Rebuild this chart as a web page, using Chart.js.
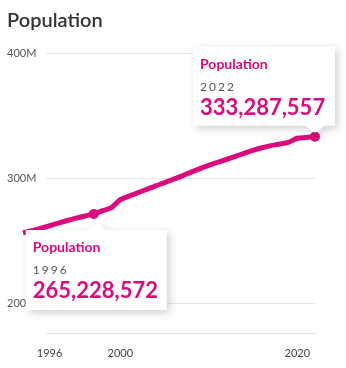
<!DOCTYPE html>
<html>
<head>
<meta charset="utf-8">
<script src="https://cdn.jsdelivr.net/npm/chart.js@4.4.1/dist/chart.umd.min.js"></script>
<style>
  html, body { margin: 0; padding: 0; background: #fff; }
  #wrap { width: 346px; height: 368px; position: relative; }
</style>
</head>
<body>
<div id="wrap"><canvas id="chart" width="346" height="368"></canvas></div>
<script>
// yearly population, millions
const YEARS = [1989, 1990, 1991, 1992, 1993, 1994, 1995, 1996, 1997, 1998, 1999,
  2000, 2001, 2002, 2003, 2004, 2005, 2006, 2007, 2008, 2009, 2010,
  2011, 2012, 2013, 2014, 2015, 2016, 2017, 2018, 2019, 2020, 2021, 2022];
const POP_M = [256.5, 258.3, 260.0, 262.2, 264.3, 266.4, 268.3, 270.0, 271.6, 274.2, 276.6,
  283.0, 285.8, 288.6, 291.2, 294.0, 296.6, 299.3, 302.0, 305.0, 307.8, 310.4,
  312.8, 315.2, 317.6, 320.0, 322.4, 324.4, 326.1, 327.4, 328.8, 332.0, 332.6, 333.29];

const Y_TICKS = [200, 300, 400];
const X_TICKS = [1992, 2000, 2020];
const X_TICK_LABELS = ['1996', '2000', '2020'];

// the two callouts: point they hang from, year shown, exact figure
const TIP_AT = [1997, 2022];
const TIP_YEAR = ['1996', '2022'];
const TIP_VALUE = [265228572, 333287557];
const TIP_SIDE = ['below', 'above'];

const PINK = '#dc0a7c';
const FONT = 'Lato, "Noto Sans", sans-serif';

const points = YEARS.map((y, i) => ({ x: y, y: POP_M[i] }));
const activeIdx = TIP_AT.map(y => YEARS.indexOf(y));

const callouts = {
  id: 'callouts',
  afterDraw(chart) {
    const ctx = chart.ctx;
    const meta = chart.getDatasetMeta(0);
    TIP_AT.forEach((yr, k) => {
      const pt = meta.data[activeIdx[k]];
      const px = pt.x, py = pt.y;
      let left, top, w, h;
      ctx.save();
      ctx.beginPath();
      if (TIP_SIDE[k] === 'above') {
        w = 142; h = 79;
        left = px - 122; top = py - 90;
        ctx.moveTo(left, top);
        ctx.lineTo(left + w, top);
        ctx.lineTo(left + w, top + h);
        ctx.lineTo(px + 10, top + h);
        ctx.lineTo(px, py - 4);
        ctx.lineTo(px - 10, top + h);
        ctx.lineTo(left, top + h);
      } else {
        w = 141; h = 80;
        left = px - 68; top = py + 16;
        ctx.moveTo(left, top);
        ctx.lineTo(px - 5, top);
        ctx.lineTo(px + 3, py + 7);
        ctx.lineTo(px + 12, top);
        ctx.lineTo(left + w, top);
        ctx.lineTo(left + w, top + h);
        ctx.lineTo(left, top + h);
      }
      ctx.closePath();
      ctx.shadowColor = 'rgba(0,0,0,0.18)';
      ctx.shadowBlur = 8;
      ctx.shadowOffsetX = 3;
      ctx.shadowOffsetY = 3;
      ctx.fillStyle = '#fff';
      ctx.fill();
      ctx.restore();

      ctx.save();
      ctx.textBaseline = 'alphabetic';
      ctx.textAlign = 'left';
      ctx.fillStyle = PINK;
      ctx.font = 'bold 14px ' + FONT;
      ctx.fillText('Population', left + 7, top + 22.5);
      ctx.fillStyle = '#555';
      ctx.font = '12px ' + FONT;
      ctx.letterSpacing = '2px';
      ctx.fillText(TIP_YEAR[k], left + 7, top + 44);
      ctx.letterSpacing = '0px';
      ctx.fillStyle = PINK;
      ctx.font = 'bold 22px ' + FONT;
      ctx.fillText(TIP_VALUE[k].toLocaleString('en-US'), left + 7, top + 68.5);
      ctx.restore();
    });
  }
};

new Chart(document.getElementById('chart').getContext('2d'), {
  type: 'line',
  data: {
    datasets: [{
      label: 'Population',
      data: points,
      borderColor: PINK,
      borderWidth: 5,
      tension: 0.25,
      clip: false,
      pointRadius: ctx => activeIdx.includes(ctx.dataIndex) ? 5 : 0,
      pointBackgroundColor: PINK,
      pointBorderWidth: 0
    }]
  },
  options: {
    responsive: false,
    animation: false,
    events: [],
    layout: { padding: { left: 7, right: 31, top: 0, bottom: 3 } },
    plugins: {
      legend: { display: false },
      tooltip: { enabled: false },
      title: {
        display: true,
        text: 'Population',
        align: 'start',
        color: '#333',
        font: { family: FONT, size: 20, weight: '600' },
        padding: { top: 9, bottom: 20 }
      }
    },
    scales: {
      x: {
        type: 'linear',
        bounds: 'data',
        // range set here (not as min/max) so the early years left of the axis still get drawn
        afterDataLimits: s => { s.min = 1991.6; s.max = 2022; },
        afterBuildTicks: s => { s.ticks = X_TICKS.map(v => ({ value: v })); },
        ticks: {
          autoSkip: false,
          maxRotation: 0,
          padding: 5,
          color: '#444',
          font: { family: FONT, size: 11 },
          callback: v => X_TICK_LABELS[X_TICKS.indexOf(v)]
        },
        grid: { display: false },
        border: { display: true, color: '#e2e2e2', width: 1 }
      },
      y: {
        min: 176,
        max: 400,
        afterBuildTicks: s => { s.ticks = Y_TICKS.map(v => ({ value: v })); },
        afterFit: s => { s.width = 39; },
        ticks: {
          padding: 11,
          crossAlign: 'far',
          color: '#555',
          font: { family: FONT, size: 11 },
          callback: v => v + 'M'
        },
        grid: { color: '#e6e6e6', drawTicks: false },
        border: { display: false }
      }
    }
  },
  plugins: [callouts]
});
</script>
</body>
</html>
